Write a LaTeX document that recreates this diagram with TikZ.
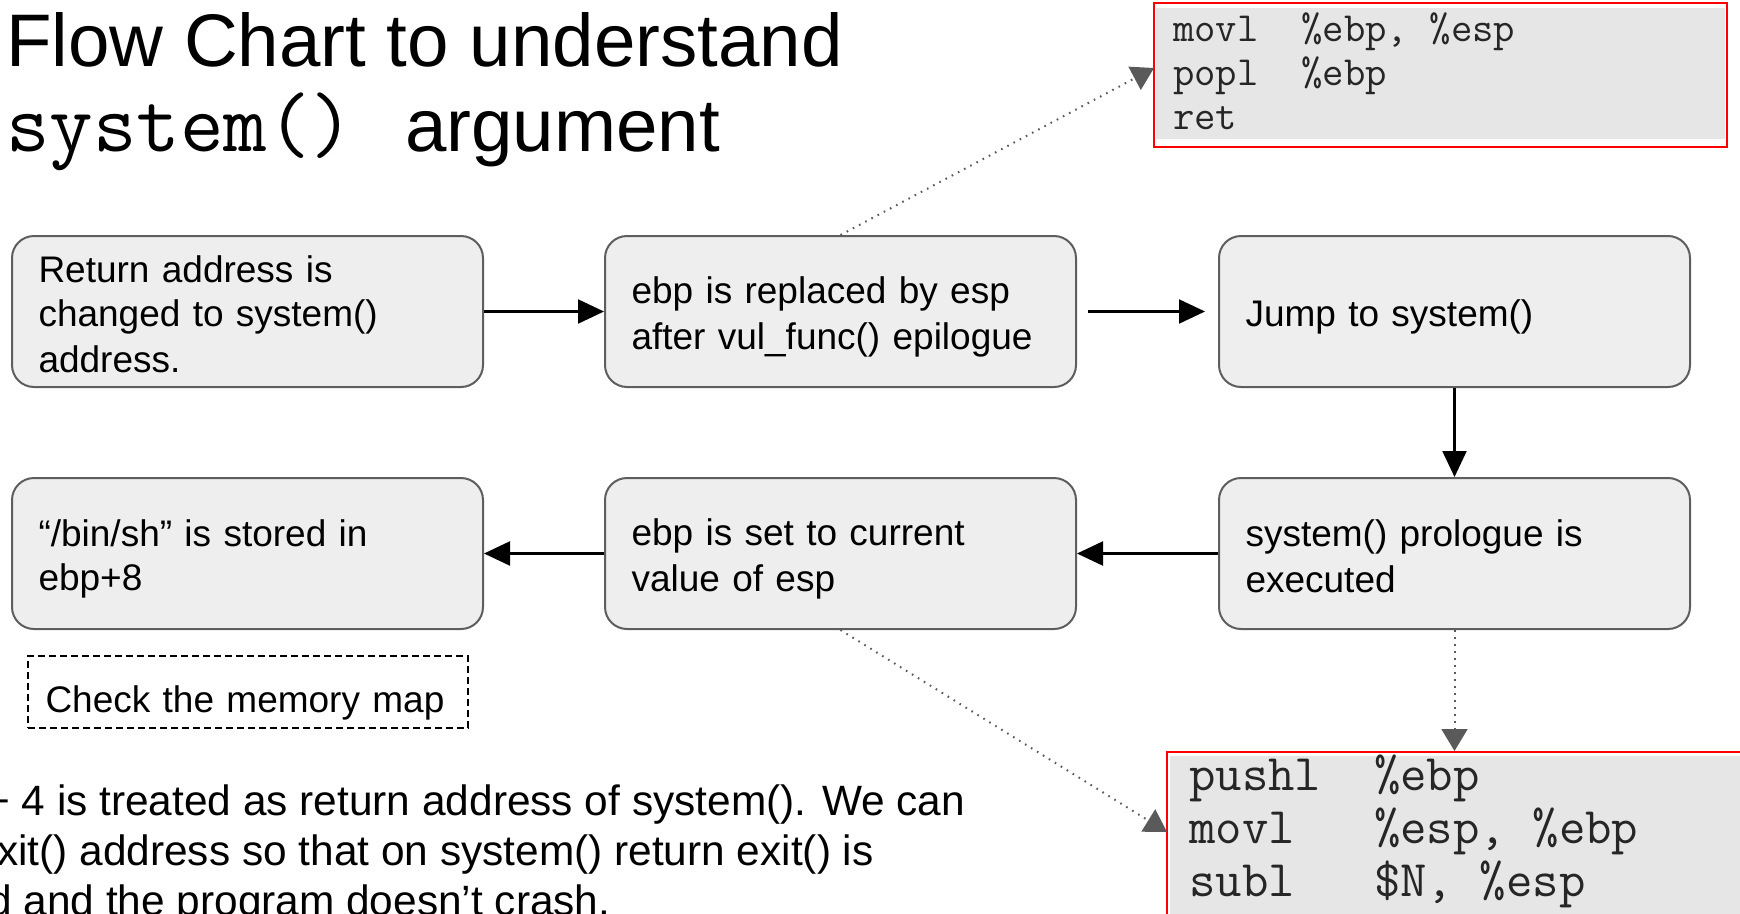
\documentclass[tikz,border=0pt]{standalone}
\usepackage{fontspec}
\setmainfont{Liberation Sans}
\usetikzlibrary{arrows.meta}
\definecolor{boxfill}{HTML}{EEEEEE}
\definecolor{boxline}{HTML}{5E5E5E}
\definecolor{codegray}{HTML}{E6E6E6}
\definecolor{dotgray}{HTML}{5A5A5A}
\newcommand\lnstrut{\rule[-5.8pt]{0pt}{43.6pt}}
\newcommand\notestrut{\rule[-0.3pt]{0pt}{49.6pt}}
\tikzset{
  stepbox/.style={draw=boxline, line width=2pt, fill=boxfill, rounded corners=22pt,
    minimum width=471pt, minimum height=151pt, text width=418pt, inner xsep=26.5pt, inner ysep=0pt,
    align=left, font=\fontsize{37}{43.6}\selectfont},
  arr/.style={line width=2.2pt, draw=black, -{Triangle[length=26pt,width=24pt]}},
  dotarr/.style={line width=2pt, draw=dotgray, dash pattern=on 1.6pt off 5.4pt,
    -{Triangle[length=22pt,width=26pt,fill=dotgray]}},
  codebox/.style={draw=red, line width=2pt, fill=white, inner sep=0pt},
  txt/.style={anchor=base west, inner sep=0pt},
  codeA/.style={txt, font=\ttfamily\fontsize{41.5}{44}\selectfont, text=black!85},
  codeB/.style={txt, font=\ttfamily\fontsize{51.3}{53}\selectfont, text=black!85},
  bodytxt/.style={txt, font=\fontsize{42.4}{50}\selectfont}
}
\begin{document}
\begin{tikzpicture}[x=1pt, y=-1pt]
\useasboundingbox (0,0) rectangle (1740,913);

% title
\node[txt, font=\fontsize{74.5}{87}\selectfont] (t1) at (6,66.5) {Flow Chart to understand};
\node[txt, font=\ttfamily\fontsize{84.5}{87}\selectfont] (t2) at (6,151) {system()};
\node[txt, font=\fontsize{74.5}{87}\selectfont] (t3) at (405,151) {argument};

% flow boxes
\node[stepbox] (n1) at (247.5,311.5) {\lnstrut Return address is\\\lnstrut changed to system()\\\lnstrut address.};
\node[stepbox] (n2) at (840.5,311.5) {\lnstrut ebp is replaced by esp\\\lnstrut after vul\_func() epilogue};
\node[stepbox] (n3) at (1454.5,311.5) {\lnstrut Jump to system()};
\node[stepbox] (n4) at (247.5,553.5) {\lnstrut “/bin/sh” is stored in\\\lnstrut ebp+8};
\node[stepbox] (n5) at (840.5,553.5) {\lnstrut ebp is set to current\\\lnstrut value of esp};
\node[stepbox] (n6) at (1454.5,553.5) {\lnstrut system() prologue is\\\lnstrut executed};

% dashed note
\node[draw=black, line width=1.6pt, dash pattern=on 7pt off 4pt, minimum width=440pt, minimum height=72pt,
  text width=405pt, inner xsep=17.5pt, inner ysep=0pt, align=left,
  font=\fontsize{37}{43.6}\selectfont] (note) at (248,692) {\notestrut Check the memory map};

% code box top
\node[codebox, minimum width=573pt, minimum height=144pt] (code1) at (1440.5,75) {};
\fill[codegray] (1156,8) rectangle (1725,139);
\node[codeA] (c1a) at (1173,41) {movl~~\%ebp,~\%esp};
\node[codeA] (c1b) at (1173,85) {popl~~\%ebp};
\node[codeA] (c1c) at (1173,129) {ret};

% code box bottom
\node[codebox, minimum width=593pt, minimum height=198pt] (code2) at (1463.5,851) {};
\fill[codegray] (1170,756) rectangle (1760,950);
\node[codeB] (c2a) at (1189,790) {pushl~~\%ebp};
\node[codeB] (c2b) at (1189,843) {movl~~~\%esp,~\%ebp};
\node[codeB] (c2c) at (1189,896) {subl~~~\$N,~\%esp};

% bottom explanatory text (cut by the frame)
\node[bodytxt] (b1) at (-15,815) {+ 4 is treated as return address of system(). We can};
\node[bodytxt] (b2) at (-3,865) {xit() address so that on system() return exit() is};
\node[bodytxt] (b3) at (-12,915) {d and the program doesn’t crash.};

% connectors
\draw[arr] (n1) -- (n2);
\draw[arr, shorten <=11pt, shorten >=13pt] (n2) -- (n3);
\draw[arr] (n3) -- (n6);
\draw[arr] (n6) -- (n5);
\draw[arr] (n5) -- (n4);

\coordinate (c1in) at (1154,68);
\coordinate (c2in) at (1167,832);
\draw[dotarr] (n2.north) -- (c1in);
\draw[dotarr] (n5.south) -- (c2in);
\draw[dotarr] (n6.south) -- (n6.south |- code2.north);
\end{tikzpicture}
\end{document}
